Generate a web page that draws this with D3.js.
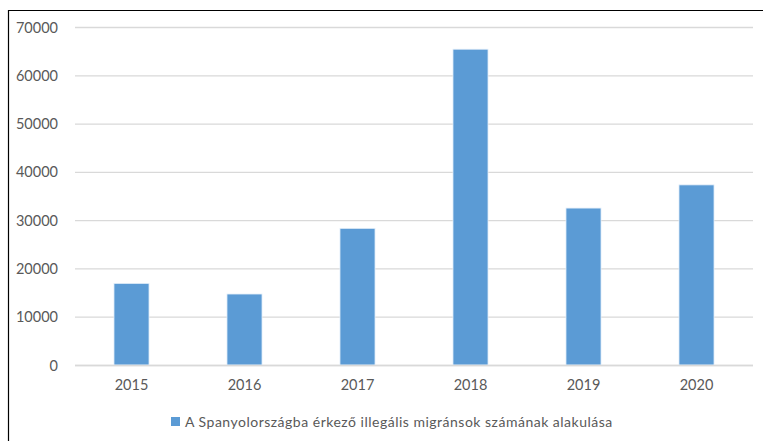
<!DOCTYPE html>
<html>
<head>
<meta charset="utf-8">
<script src="https://cdn.jsdelivr.net/npm/d3@7"></script>
<style>
	body { margin: 0; background: #fff; }
	svg text { font-family: Lato, "Open Sans", sans-serif; fill: #595959; }
</style>
</head>
<body>
<svg class="chart" width="763" height="441"></svg>
<script>
// values
var years = ["2015", "2016", "2017", "2018", "2019", "2020"];
var migrants = [16900, 14700, 28300, 65400, 32500, 37300];
var yTicks = [0, 10000, 20000, 30000, 40000, 50000, 60000, 70000];
var seriesName = "A Spanyolországba érkező illegális migránsok számának alakulása";

var svg = d3.select('svg.chart'),
	plotLeft = 75, plotRight = 753, plotTop = 27, plotBottom = 365;

// outer frame (only top and left edges show in the picture)
svg.append('path')
	.attr('d', 'M8.5,441 V10.5 H763')
	.attr('fill', 'none')
	.attr('stroke', '#000')
	.attr('stroke-width', 1.2);

var x = d3.scaleBand()
	.domain(years)
	.range([plotLeft, plotRight])
	.paddingInner(0.69)
	.paddingOuter(0.345);

var y = d3.scaleLinear()
	.domain([0, 70000])
	.range([plotBottom, plotTop]);

// gridlines + y labels
var yAxis = svg.append('g')
	.attr('transform', 'translate(' + plotLeft + ',0)')
	.call(d3.axisLeft(y).tickValues(yTicks).tickSize(-(plotRight - plotLeft)).tickPadding(17).tickFormat(d3.format('d')));
yAxis.select('.domain').remove();
yAxis.selectAll('line').attr('stroke', '#d9d9d9').attr('stroke-width', 1.3);
yAxis.selectAll('text').attr('font-size', 14.5).attr('dy', '0.35em');

svg.selectAll('.bar')
	.data(years)
	.enter().append('rect')
	.classed('bar', true)
	.attr('x', function(d) { return x(d); })
	.attr('y', function(d, i) { return y(migrants[i]); })
	.attr('width', x.bandwidth())
	.attr('height', function(d, i) { return plotBottom - y(migrants[i]); })
	.attr('fill', '#5b9bd5')
	.attr('stroke', '#e3eef9')
	.attr('stroke-width', 0.8);

// baseline redrawn over bars
svg.append('line')
	.attr('x1', plotLeft).attr('x2', plotRight)
	.attr('y1', plotBottom + 0.5).attr('y2', plotBottom + 0.5)
	.attr('stroke', '#d9d9d9')
	.attr('stroke-width', 1.3);

var xAxis = svg.append('g')
	.attr('transform', 'translate(0,' + plotBottom + ')')
	.call(d3.axisBottom(x).tickSize(0).tickPadding(15));
xAxis.select('.domain').remove();
xAxis.selectAll('text').attr('font-size', 14.5);

// legend, spaced out like the original
var legend = svg.append('g').attr('transform', 'translate(171,417)');
legend.append('rect')
	.attr('width', 9).attr('height', 9)
	.attr('fill', '#5b9bd5');
legend.append('text')
	.attr('x', 14).attr('y', 9.5)
	.attr('font-size', 14)
	.attr('letter-spacing', 0.5)
	.text(seriesName);
</script>
</body>
</html>
